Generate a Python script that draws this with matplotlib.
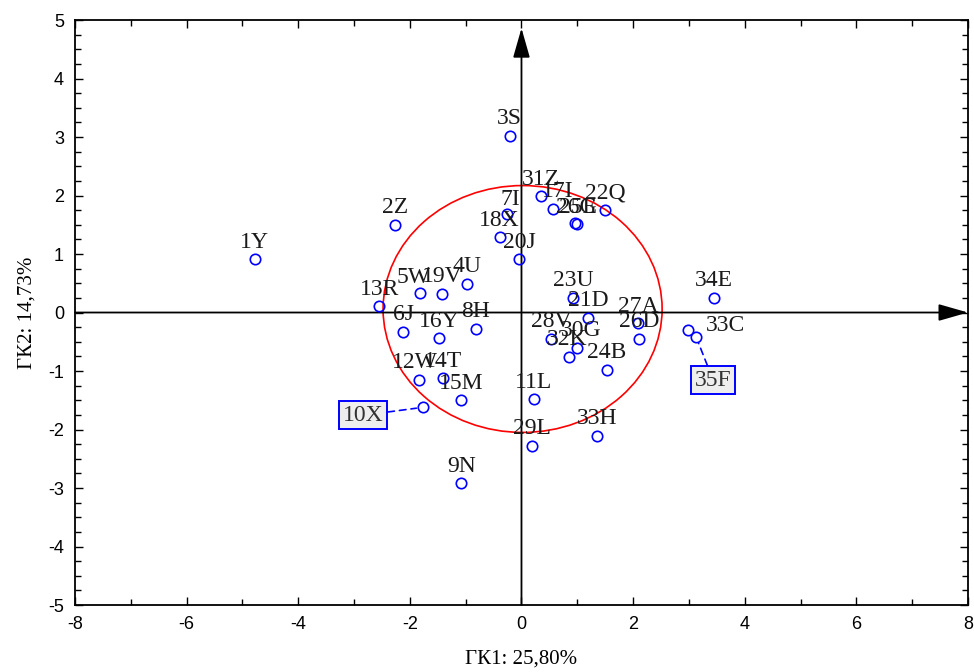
import matplotlib
matplotlib.use('Agg')
import matplotlib.pyplot as plt
from matplotlib.patches import Ellipse
from matplotlib.ticker import MultipleLocator

plt.rcParams['axes.unicode_minus'] = False

# --- dados ---
nomes = ['1Y', '2Z', '3S', '4U', '5W', '6J', '7I', '8H', '9N', '10X',
         '11L', '12W', '13R', '14T', '15M', '16Y', '17I', '18X', '19V', '20J',
         '21D', '22Q', '23U', '24B', '25E', '26G', '26D', '27A', '28V', '29L',
         '30G', '31Z', '32K', '33C', '33H', '34E', '35F']
gk1 = [-4.78, -2.27, -0.21, -0.98, -1.82, -2.12, -0.26, -0.82, -1.08, -1.76,
       0.22, -1.84, -2.55, -1.41, -1.08, -1.48, 0.56, -0.39, -1.42, -0.04,
       1.19, 1.50, 0.92, 1.53, 0.96, 0.99, 2.11, 2.09, 0.53, 0.19,
       0.99, 0.35, 0.85, 2.98, 1.35, 3.45, 3.13]
gk2 = [0.91, 1.50, 3.02, 0.49, 0.33, -0.33, 1.68, -0.28, -2.92, -1.62,
       -1.48, -1.15, 0.11, -1.12, -1.50, -0.44, 1.77, 1.29, 0.32, 0.91,
       -0.09, 1.75, 0.25, -0.98, 1.53, 1.51, -0.45, -0.18, -0.45, -2.28,
       -0.61, 1.99, -0.76, -0.30, -2.11, 0.25, -0.42]
destacados = ['10X', '35F']
rotulo_x = 'ГК1: 25,80%'
rotulo_y = 'ГК2: 14,73%'

# deslocamento dos rótulos (pixels) - padrão: acima do ponto
desloc = {'5W': (-6, 16), '12W': (-4, 17), '17I': (5, 17), '30G': (4, 18),
          '33C': (38, 5), '7I': (3, 15), '32K': (-2, 17), '25E': (3, 16),
          '10X': (-60, -8), '35F': (17, -43)}

fig = plt.figure(figsize=(9.74, 6.72), dpi=100)
ax = fig.add_axes([0.077, 0.0997, 0.9168, 0.8705])
ax.set_xlim(-8, 8)
ax.set_ylim(-5, 5)

# eixos com setas
seta = dict(arrowstyle='-|>,head_length=1.4,head_width=0.4', color='black', lw=1.3,
            shrinkA=0, shrinkB=0, mutation_scale=13)
ax.annotate('', xy=(8, 0), xytext=(-8, 0), arrowprops=seta, annotation_clip=False)
ax.annotate('', xy=(0, 4.86), xytext=(0, -5), arrowprops=seta, annotation_clip=False)

# elipse de confiança
ax.add_patch(Ellipse((0.02, 0.06), 5.0, 4.22, fill=False, edgecolor='red', lw=1.2))

ax.plot(gk1, gk2, linestyle='none', marker='o', markersize=7.5,
        markerfacecolor='none', markeredgecolor='blue', markeredgewidth=1.2, zorder=3)

for nome, x, y in zip(nomes, gk1, gk2):
    dx, dy = desloc.get(nome, (0, 17))
    if nome in destacados:
        ax.annotate(nome, xy=(x, y), xytext=(dx, dy), textcoords='offset pixels',
                    ha='center', va='center', fontsize=17, family='Liberation Serif',
                    color='#333333',
                    bbox=dict(boxstyle='square,pad=0.15', facecolor='#eeeeee',
                              edgecolor='blue', lw=1.4),
                    arrowprops=dict(arrowstyle='-', color='blue', lw=1.2,
                                    linestyle=(0, (4, 3)), shrinkA=0, shrinkB=5))
    else:
        ax.annotate(nome, xy=(x, y), xytext=(dx, dy), textcoords='offset pixels',
                    ha='center', va='center', fontsize=17, family='Liberation Serif',
                    color='#1a1a1a')

ax.xaxis.set_major_locator(MultipleLocator(2))
ax.xaxis.set_minor_locator(MultipleLocator(1))
ax.yaxis.set_major_locator(MultipleLocator(1))
ax.yaxis.set_minor_locator(MultipleLocator(0.25))
ax.tick_params(which='both', direction='in', top=True, right=True, width=1.0,
               labelsize=13, pad=8)
ax.tick_params(which='major', length=6)
ax.tick_params(which='minor', length=4)
for lbl in ax.get_xticklabels() + ax.get_yticklabels():
    lbl.set_family('Liberation Sans')
for sp in ax.spines.values():
    sp.set_linewidth(1.3)

ax.set_xlabel(rotulo_x, family='Liberation Serif', fontsize=15, labelpad=12)
ax.set_ylabel(rotulo_y, family='Liberation Serif', fontsize=15, labelpad=8)

fig.savefig('out.png', dpi=100)
